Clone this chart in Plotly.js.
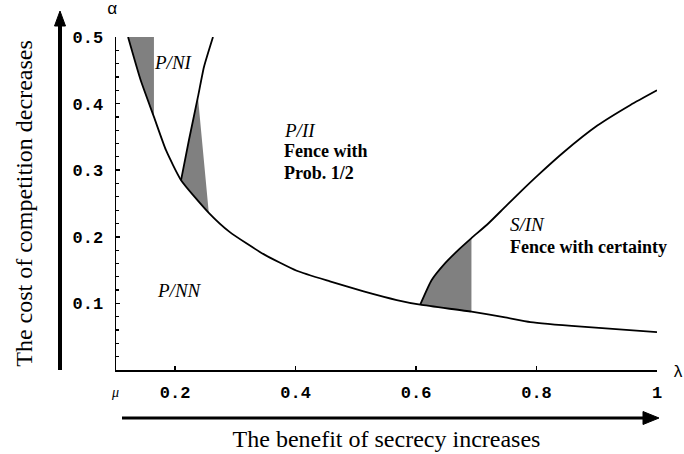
<!DOCTYPE html>
<html>
<head>
<meta charset="utf-8">
<script src="https://cdn.plot.ly/plotly-3.0.1.min.js"></script>
<style>html,body{margin:0;padding:0;background:#fff;}#chart{width:684px;height:454px;}</style>
</head>
<body>
<div id="chart"></div>
<script>
// Boundary between P/NN and the other regions (lambda, alpha)
const mainX = [0.122, 0.143, 0.165, 0.185, 0.21, 0.256, 0.291, 0.347, 0.402, 0.457, 0.513, 0.568, 0.607, 0.692, 0.748, 0.79, 0.875, 1.0];
const mainY = [0.5, 0.435, 0.38, 0.33, 0.285, 0.236, 0.207, 0.174, 0.149, 0.133, 0.118, 0.105, 0.098, 0.0875, 0.079, 0.072, 0.065, 0.057];
// Right boundary of P/NI
const niX = [0.21, 0.223, 0.238, 0.248, 0.263];
const niY = [0.285, 0.345, 0.41, 0.455, 0.5];
// Boundary of S/IN
const sinX = [0.607, 0.626, 0.648, 0.67, 0.692, 0.72, 0.748, 0.775, 0.803, 0.845, 0.901, 0.956, 1.0];
const sinY = [0.098, 0.135, 0.16, 0.18, 0.198, 0.22, 0.245, 0.269, 0.293, 0.327, 0.367, 0.398, 0.42];
// Tick labels
const xTickVals = [0.2, 0.4, 0.6, 0.8, 1.0];
const xTickText = ['0.2', '0.4', '0.6', '0.8', '1'];
const yTickVals = [0.1, 0.2, 0.3, 0.4, 0.5];
const yTickText = ['0.1', '0.2', '0.3', '0.4', '0.5'];

const shadeColor = '#808080';
const lineStyle = {color: '#000', width: 1.8, shape: 'spline', smoothing: 0.5};

// Shaded region 1: under alpha=0.5 between main curve and lambda = mainX[2]
const s1x = mainX.slice(0, 3).concat([mainX[2], mainX[0]]);
const s1y = mainY.slice(0, 3).concat([mainY[0], mainY[0]]);
// Shaded region 2: between P/NI right boundary and main curve
const s2x = niX.slice(0, 3).concat([mainX[5], mainX[4]]);
const s2y = niY.slice(0, 3).concat([mainY[5], mainY[4]]);
// Shaded region 3: under S/IN boundary up to lambda = sinX[4]
const s3x = sinX.slice(0, 5).concat([mainX[13], mainX[12]]);
const s3y = sinY.slice(0, 5).concat([mainY[13], mainY[12]]);

function fillTrace(x, y) {
  return {x: x, y: y, type: 'scatter', mode: 'lines', fill: 'toself',
    fillcolor: shadeColor, line: {width: 0, color: shadeColor}, hoverinfo: 'skip', showlegend: false};
}
function lineTrace(x, y) {
  return {x: x, y: y, type: 'scatter', mode: 'lines', line: lineStyle, showlegend: false, cliponaxis: false};
}

const data = [
  fillTrace(s1x, s1y), fillTrace(s2x, s2y), fillTrace(s3x, s3y),
  lineTrace(mainX, mainY), lineTrace(niX, niY), lineTrace(sinX, sinY)
];

// pixel helpers for paper coordinates (plot area: x 116..657, y 37..370)
const L = 116, R = 657, T = 37, B = 370;
const px = v => (v - L) / (R - L);
const py = v => (B - v) / (B - T);

const serif = 'Liberation Serif, Times New Roman, serif';
const textFont = {family: serif, size: 18, color: '#000', weight: 'bold'};
const italFont = {family: serif, size: 19, color: '#000', style: 'italic'};

const annotations = [
  {x: 0.197, y: 0.461, text: 'P/NI', font: italFont, showarrow: false},
  {x: 0.378, y: 0.36, text: 'P/II', font: italFont, showarrow: false, xanchor: 'left'},
  {x: 0.378, y: 0.329, text: 'Fence with', font: textFont, showarrow: false, xanchor: 'left'},
  {x: 0.378, y: 0.296, text: 'Prob. 1/2', font: textFont, showarrow: false, xanchor: 'left'},
  {x: 0.207, y: 0.12, text: 'P/NN', font: italFont, showarrow: false},
  {x: 0.753, y: 0.219, text: 'S/IN', font: italFont, showarrow: false, xanchor: 'left'},
  {x: 0.753, y: 0.185, text: 'Fence with certainty', font: textFont, showarrow: false, xanchor: 'left'},
  {xref: 'paper', yref: 'paper', x: px(112), y: py(10), xanchor: 'center', yanchor: 'middle', text: 'α', showarrow: false,
    font: {family: 'Liberation Mono, monospace', size: 17, color: '#000'}},
  {xref: 'paper', yref: 'paper', x: px(115), y: py(393), xanchor: 'center', yanchor: 'middle', text: 'μ', showarrow: false,
    font: {family: serif, size: 14, color: '#000', style: 'italic'}},
  {xref: 'paper', yref: 'paper', x: px(678), y: py(373), xanchor: 'center', yanchor: 'middle', text: 'λ', showarrow: false,
    font: {family: 'Liberation Mono, monospace', size: 17, color: '#000'}}
];

const shapes = [
  // vertical arrow (cost of competition)
  {type: 'line', xref: 'paper', yref: 'paper', x0: px(60), x1: px(60), y0: py(370), y1: py(24),
    line: {color: '#000', width: 4}},
  {type: 'path', xref: 'paper', yref: 'paper',
    path: `M ${px(60)} ${py(11)} L ${px(54.5)} ${py(26)} L ${px(65.5)} ${py(26)} Z`,
    fillcolor: '#000', line: {color: '#000', width: 1}},
  // horizontal arrow (benefit of secrecy)
  {type: 'line', xref: 'paper', yref: 'paper', x0: px(122), x1: px(645), y0: py(418), y1: py(418),
    line: {color: '#000', width: 3}},
  {type: 'path', xref: 'paper', yref: 'paper',
    path: `M ${px(659)} ${py(418)} L ${px(643)} ${py(411.5)} L ${px(643)} ${py(424.5)} Z`,
    fillcolor: '#000', line: {color: '#000', width: 1}}
];

const tickFont = {family: 'Liberation Mono, Courier New, monospace', size: 17, color: '#000', weight: 'bold'};

const layout = {
  width: 684, height: 454, autosize: false,
  margin: {l: L, r: 684 - R, t: T, b: 454 - B, pad: 0},
  paper_bgcolor: '#fff', plot_bgcolor: '#fff',
  showlegend: false,
  xaxis: {
    range: [0.102, 1.0], showgrid: false, zeroline: false,
    showline: true, linecolor: '#000', linewidth: 1.5,
    ticks: 'inside', ticklen: 4, tickwidth: 1.5, tickcolor: '#000',
    tickvals: xTickVals, ticktext: xTickText, tickfont: tickFont, ticklabelstandoff: 6,
    title: {text: 'The benefit of secrecy increases', font: {family: serif, size: 24, color: '#000'}, standoff: 28},
    automargin: false, fixedrange: true
  },
  yaxis: {
    range: [0, 0.5], showgrid: false, zeroline: false,
    showline: true, linecolor: '#000', linewidth: 1.5,
    ticks: 'inside', ticklen: 4, tickwidth: 1.5, tickcolor: '#000',
    tickvals: yTickVals, ticktext: yTickText, tickfont: tickFont, ticklabelstandoff: 8,
    minor: {dtick: 0.02, ticks: 'inside', ticklen: 3, tickwidth: 1.2, tickcolor: '#000', showgrid: false},
    title: {text: 'The cost of competition decreases', font: {family: serif, size: 24, color: '#000'}, standoff: 33},
    automargin: false, fixedrange: true
  },
  annotations: annotations,
  shapes: shapes
};

Plotly.newPlot('chart', data, layout, {displayModeBar: false, staticPlot: true});
</script>
</body>
</html>
